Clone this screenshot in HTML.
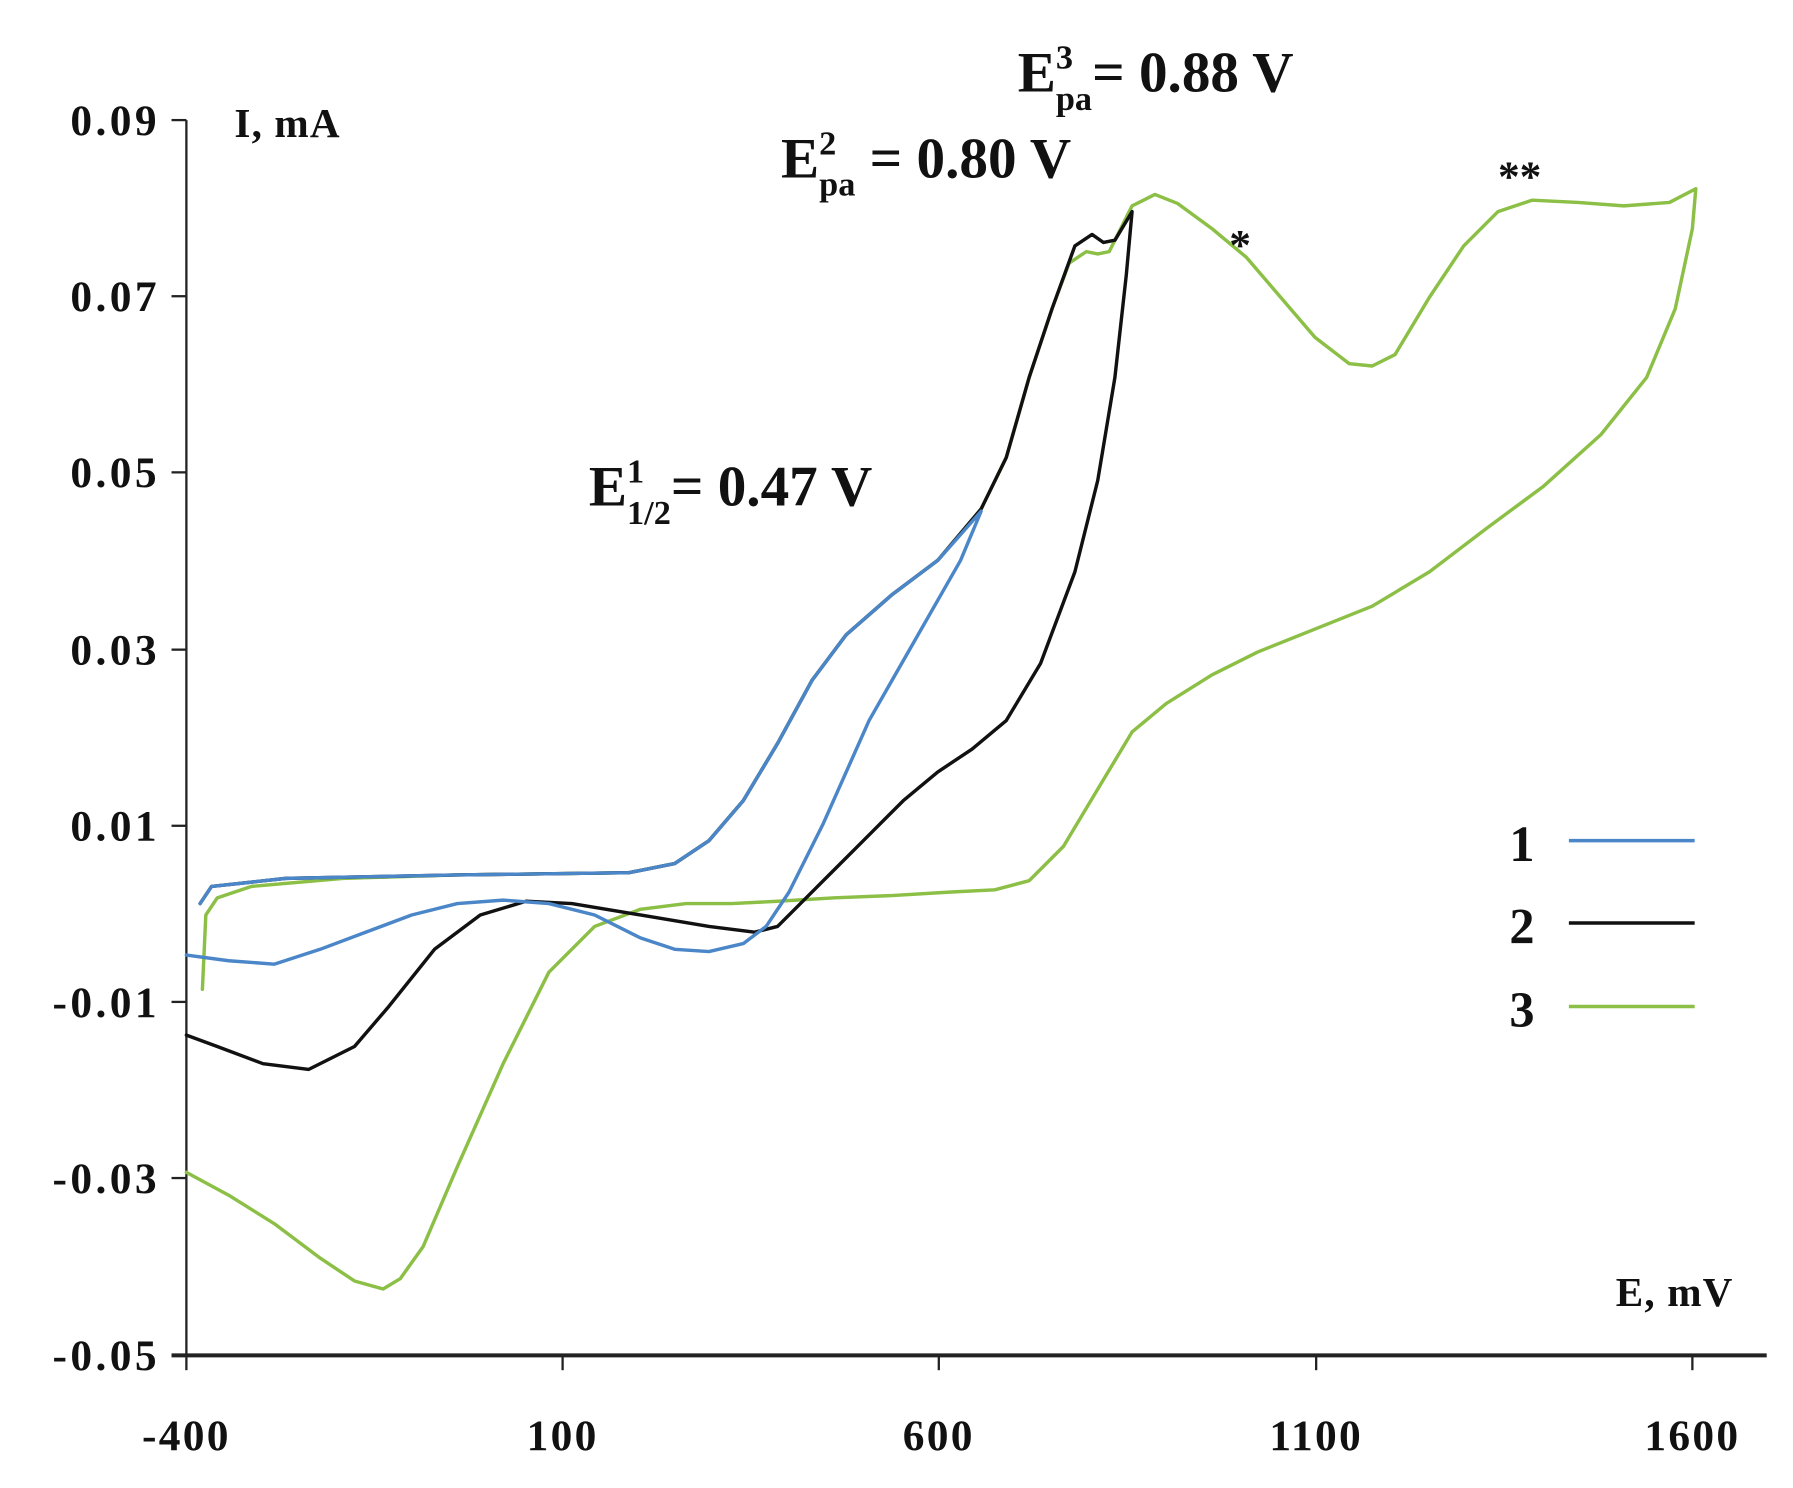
<!DOCTYPE html>
<html><head><meta charset="utf-8"><style>
html,body{margin:0;padding:0;background:#fff;}
svg{display:block;}
text{font-family:"Liberation Serif",serif;font-weight:bold;fill:#111;}
</style></head><body>
<svg width="1793" height="1488" viewBox="0 0 1568 1301" preserveAspectRatio="none" xmlns="http://www.w3.org/2000/svg">
<rect width="1568" height="1301" fill="#fff"/>
<g stroke="#222" stroke-width="2" fill="none">
<line x1="163" y1="105" x2="163" y2="1185"/>
<line x1="150" y1="1185" x2="1545" y2="1185" stroke-width="3.5"/>
<line x1="150" y1="105" x2="163" y2="105"/>
<line x1="150" y1="259" x2="163" y2="259"/>
<line x1="150" y1="413" x2="163" y2="413"/>
<line x1="150" y1="568" x2="163" y2="568"/>
<line x1="150" y1="722" x2="163" y2="722"/>
<line x1="150" y1="876" x2="163" y2="876"/>
<line x1="150" y1="1030" x2="163" y2="1030"/>
<line x1="163" y1="1185" x2="163" y2="1198"/>
<line x1="492" y1="1185" x2="492" y2="1198"/>
<line x1="821" y1="1185" x2="821" y2="1198"/>
<line x1="1151" y1="1185" x2="1151" y2="1198"/>
<line x1="1480" y1="1185" x2="1480" y2="1198"/>
</g>
<g font-size="38" text-anchor="end" letter-spacing="3">
<text x="140" y="118">0.09</text>
<text x="140" y="272">0.07</text>
<text x="140" y="426">0.05</text>
<text x="140" y="581">0.03</text>
<text x="140" y="735">0.01</text>
<text x="140" y="889">-0.01</text>
<text x="140" y="1043">-0.03</text>
<text x="140" y="1198">-0.05</text>
</g>
<g font-size="38" text-anchor="middle" letter-spacing="2">
<text x="163" y="1268">-400</text>
<text x="492" y="1268">100</text>
<text x="821" y="1268">600</text>
<text x="1151" y="1268">1100</text>
<text x="1480" y="1268">1600</text>
</g>
<text x="205" y="120" font-size="36" letter-spacing="1">I, mA</text>
<text x="1413" y="1142" font-size="36" letter-spacing="1">E, mV</text>
<g fill="none" stroke-width="3" stroke-linejoin="round" stroke-linecap="round">
<path stroke="#8cbf45" d="M177,865 L180,800 L190,785 L220,775 L300,768 L400,765 L550,763 L590,755 L620,735 L650,700 L680,650 L710,595 L740,555 L780,520 L820,490 L858,445 L880,400 L900,330 L920,270 L935,230 L950,220 L960,222 L970,220 L990,180 L1010,170 L1030,178 L1060,200 L1090,225 L1120,260 L1150,295 L1180,318 L1200,320 L1220,310 L1250,260 L1280,215 L1310,185 L1340,175 L1380,177 L1420,180 L1460,177 L1483,165 L1480,200 L1465,270 L1440,330 L1400,380 L1350,425 L1300,462 L1250,500 L1200,530 L1150,550 L1100,570 L1060,590 L1020,615 L990,640 L960,690 L930,740 L900,770 L870,778 L830,780 L780,783 L730,785 L680,788 L640,790 L600,790 L560,795 L520,810 L480,850 L440,930 L400,1020 L370,1090 L350,1118 L335,1127 L310,1120 L280,1100 L240,1070 L200,1045 L163,1025"/>
<path stroke="#111" d="M175,790 L185,775 L250,768 L400,765 L550,763 L590,755 L620,735 L650,700 L680,650 L710,595 L740,555 L780,520 L820,490 L858,445 L880,400 L900,330 L920,270 L940,215 L955,205 L965,212 L975,210 L990,185 L985,240 L975,330 L960,420 L940,500 L910,580 L880,630 L850,655 L820,675 L790,700 L760,730 L730,760 L700,790 L680,810 L660,815 L620,810 L560,800 L500,790 L460,788 L420,800 L380,830 L340,880 L310,915 L270,935 L230,930 L190,915 L163,905"/>
<path stroke="#4a86c8" d="M175,790 L185,775 L250,768 L400,765 L550,763 L590,755 L620,735 L650,700 L680,650 L710,595 L740,555 L780,520 L820,490 L858,447 L840,490 L800,560 L760,630 L720,720 L690,780 L670,810 L650,825 L620,832 L590,830 L560,820 L520,800 L480,790 L440,787 L400,790 L360,800 L320,815 L280,830 L240,843 L200,840 L163,835"/>
</g>
<g stroke-width="3">
<line x1="1372" y1="735" x2="1482" y2="735" stroke="#4a86c8"/>
<line x1="1372" y1="807" x2="1482" y2="807" stroke="#111"/>
<line x1="1372" y1="880" x2="1482" y2="880" stroke="#8cbf45"/>
</g>
<g font-size="44">
<text x="1320" y="753">1</text>
<text x="1320" y="825">2</text>
<text x="1320" y="898">3</text>
</g>
<text x="515" y="442" font-size="50">E<tspan font-size="30" dy="-20">1</tspan><tspan font-size="30" dx="-15" dy="36">1/2</tspan><tspan dy="-16">= 0.47 V</tspan></text>
<text x="683" y="155" font-size="50">E<tspan font-size="30" dy="-20">2</tspan><tspan font-size="30" dx="-15" dy="36">pa</tspan><tspan dy="-16"> = 0.80 V</tspan></text>
<text x="890" y="80" font-size="50">E<tspan font-size="30" dy="-20">3</tspan><tspan font-size="30" dx="-15" dy="36">pa</tspan><tspan dy="-16">= 0.88 V</tspan></text>
<text x="1075" y="227" font-size="38">*</text>
<text x="1310" y="167" font-size="38">**</text>
</svg>
</body></html>
